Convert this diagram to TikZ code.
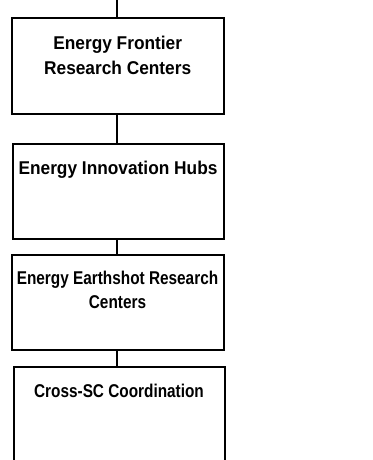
\documentclass[tikz,border=0pt]{standalone}
\usepackage{fontspec}
\newfontfamily\fa[FakeStretch=0.935]{Liberation Sans}
\newfontfamily\fb[FakeStretch=0.83]{Liberation Sans}
\begin{document}
\begin{tikzpicture}[x=1pt,y=1pt,
  box/.style={draw=black,line width=2pt,fill=none},
  lbl/.style={anchor=north,inner sep=0pt,align=center},
  conn/.style={draw=black,line width=1.3pt}]
\clip (0,0) rectangle (372,-460);
\fill[white] (0,0) rectangle (372,-460);
% boxes
\draw[box] (12,-18.3) rectangle (223.5,-113.8);
\draw[box] (12.8,-143.7) rectangle (224.3,-238.6);
\draw[box] (12,-254.5) rectangle (223.5,-349.5);
\draw[box] (13.7,-367.2) rectangle (225,-480);
\coordinate (top) at (117,0);
\coordinate (b1t) at (117,-18.3);
\coordinate (b1b) at (117,-113.8);
\coordinate (b2t) at (117,-143.7);
\coordinate (b2b) at (117,-238.6);
\coordinate (b3t) at (117,-254.5);
\coordinate (b3b) at (117,-349.5);
\coordinate (b4t) at (117,-367.2);
% labels
\node[lbl,font={\fa\bfseries\fontsize{18.5}{24.5}\selectfont}] (t1) at (117.7,-36) {Energy Frontier\\Research Centers};
\node[lbl,font={\fa\bfseries\fontsize{18.5}{24.5}\selectfont}] (t2) at (118,-160.8) {Energy Innovation Hubs};
\node[lbl,font={\fb\bfseries\fontsize{18.5}{24}\selectfont}] (t3) at (117.5,-271.1) {Energy Earthshot Research\\Centers};
\node[lbl,font={\fb\bfseries\fontsize{18.5}{24.5}\selectfont}] (t4) at (119,-383.5) {Cross-SC Coordination};
% connectors
\draw[conn] (top) -- (b1t);
\draw[conn] (b1b) -- (b2t);
\draw[conn] (b2b) -- (b3t);
\draw[conn] (b3b) -- (b4t);
\end{tikzpicture}
\end{document}
